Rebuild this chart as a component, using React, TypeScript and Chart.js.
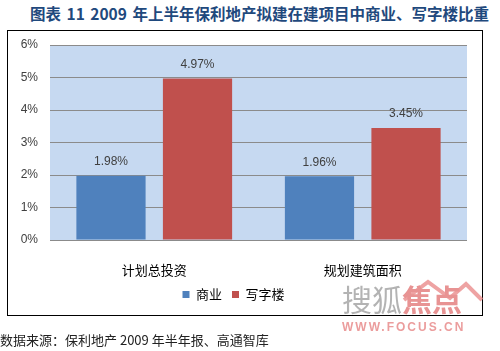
import React, { useEffect, useRef } from "react";
import { Chart, registerables } from "chart.js";

Chart.register(...registerables);

const titleText = "图表 11 2009 年上半年保利地产拟建在建项目中商业、写字楼比重";
const sourceText = "数据来源：保利地产 2009 年半年报、高通智库";
const categories = ["计划总投资", "规划建筑面积"];
const seriesNames = ["商业", "写字楼"];
const commerceValues = [1.98, 1.96];
const officeValues = [4.97, 3.45];
const yMin = 0;
const yMax = 6;
const yStep = 1;

const CJK = '"Noto Sans CJK SC", "Liberation Sans", sans-serif';
const NUM = '"Liberation Sans", Arial, sans-serif';

const plotBg = {
  id: "plotBg",
  beforeDraw(chart: any) {
    const { ctx, chartArea } = chart;
    ctx.save();
    ctx.fillStyle = "#C6D9F1";
    ctx.fillRect(chartArea.left, chartArea.top, chartArea.right - chartArea.left, chartArea.bottom - chartArea.top);
    ctx.restore();
  },
};

const valueLabels = {
  id: "valueLabels",
  afterDatasetsDraw(chart: any) {
    const { ctx } = chart;
    ctx.save();
    ctx.font = `12px ${NUM}`;
    ctx.fillStyle = "#404040";
    ctx.textAlign = "center";
    ctx.textBaseline = "middle";
    chart.data.datasets.forEach((ds: any, i: number) => {
      const meta = chart.getDatasetMeta(i);
      meta.data.forEach((bar: any, j: number) => {
        ctx.fillText(Number(ds.data[j]).toFixed(2) + "%", bar.x, bar.y - 14);
      });
    });
    ctx.restore();
  },
};

function ChartCanvas() {
  const ref = useRef<HTMLCanvasElement | null>(null);
  useEffect(() => {
    if (!ref.current) return;
    const chart = new Chart(ref.current, {
      type: "bar",
      data: {
        labels: categories,
        datasets: [
          { label: seriesNames[0], data: commerceValues, backgroundColor: "#4F81BD" },
          { label: seriesNames[1], data: officeValues, backgroundColor: "#C0504D" },
        ],
      },
      options: {
        animation: false,
        responsive: false,
        maintainAspectRatio: false,
        devicePixelRatio: 1,
        layout: { padding: { left: 0, right: 33, top: 45, bottom: 40 } },
        datasets: { bar: { categoryPercentage: 0.83, barPercentage: 0.8 } },
        scales: {
          x: {
            grid: { display: false },
            border: { display: false },
            ticks: { color: "#000", font: { family: CJK, size: 13 }, padding: 14 },
            afterFit: (s: any) => { s.height = 38; },
          },
          y: {
            min: yMin,
            max: yMax,
            ticks: {
              stepSize: yStep,
              color: "#404040",
              font: { family: NUM, size: 12 },
              padding: 12,
              callback: (v: any) => v + "%",
            },
            grid: { color: "#8B8B8B", drawTicks: false, lineWidth: 1 },
            border: { display: false },
            afterFit: (s: any) => { s.width = 50; },
          },
        },
        plugins: {
          legend: {
            position: "bottom",
            labels: {
              boxWidth: 7,
              boxHeight: 7,
              padding: 10,
              color: "#000",
              font: { family: CJK, size: 13 },
            },
          },
          tooltip: { enabled: false },
        },
      },
      plugins: [plotBg, valueLabels],
    } as any);
    return () => chart.destroy();
  }, []);
  return <canvas ref={ref} width={500} height={351} style={{ position: "absolute", left: 0, top: 0, width: 500, height: 351 }} />;
}

export default function App() {
  return (
    <div style={{ position: "fixed", left: 0, top: 0, width: 500, height: 351, background: "#fff", overflow: "hidden" }}>
      <div style={{ position: "absolute", left: 30, top: 2, fontFamily: CJK, fontSize: 15.5, fontWeight: 700, color: "#1F497D", whiteSpace: "nowrap", lineHeight: "22px", wordSpacing: 2 }}>
        {titleText}
      </div>
      <div style={{ position: "absolute", left: 7, top: 30, width: 476, height: 286, boxSizing: "border-box", border: "1px solid #000" }} />
      <ChartCanvas />
      <div style={{ position: "absolute", left: 340, top: 276, width: 150, height: 60, opacity: 0.75, pointerEvents: "none" }}>
        <svg width={150} height={40} style={{ position: "absolute", left: 0, top: 0 }}>
          <polyline points="64,24 88,6 110,22 126,8 142,24" fill="none" stroke="#E98484" strokeWidth={4} />
        </svg>
        <div style={{ position: "absolute", left: 2, top: 4, fontFamily: CJK, fontSize: 30, lineHeight: "36px", whiteSpace: "nowrap" }}>
          <span style={{ color: "#9A9A9A" }}>搜狐</span>
          <span style={{ color: "#E06F6F", fontWeight: 700 }}>焦点</span>
        </div>
        <div style={{ position: "absolute", left: 2, top: 43, fontFamily: NUM, fontSize: 12, fontWeight: 700, letterSpacing: 2, color: "#E57C7C", whiteSpace: "nowrap", lineHeight: "16px" }}>
          WWW.FOCUS.CN
        </div>
      </div>
      <div style={{ position: "absolute", left: 0, top: 331, fontFamily: CJK, fontSize: 13, color: "#222", whiteSpace: "nowrap", lineHeight: "18px" }}>
        {sourceText}
      </div>
    </div>
  );
}
